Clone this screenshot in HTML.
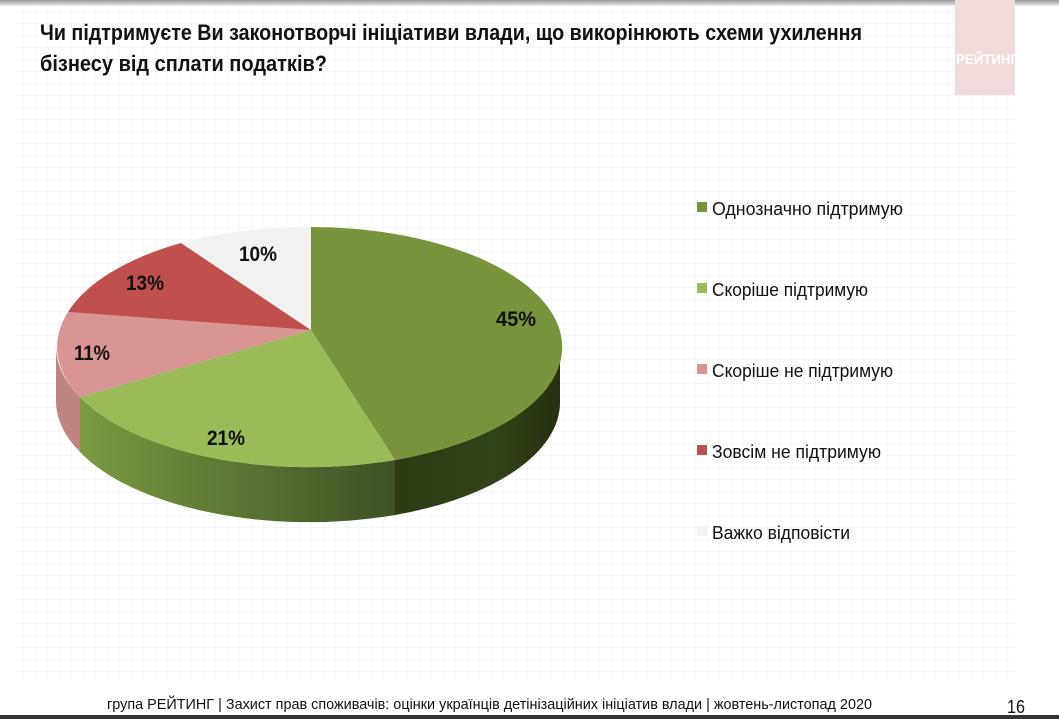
<!DOCTYPE html>
<html><head><meta charset="utf-8"><style>
html,body{margin:0;padding:0;background:#fff;}
svg{display:block;font-family:"Liberation Sans",sans-serif;}
</style></head><body>
<svg width="1059" height="719" viewBox="0 0 1059 719" xmlns="http://www.w3.org/2000/svg">
<defs>
<pattern id="grid" width="12" height="12" patternUnits="userSpaceOnUse">
<path d="M12 0V12M0 12H12" stroke="#ececec" stroke-width="1" fill="none"/>
</pattern>
<linearGradient id="lgS" x1="0" y1="0" x2="1" y2="0">
<stop offset="0" stop-color="#7a9a42"/><stop offset="1" stop-color="#3e5123"/></linearGradient>
<linearGradient id="dgS" x1="0" y1="0" x2="1" y2="0">
<stop offset="0" stop-color="#2c3a14"/><stop offset="0.6" stop-color="#334318"/><stop offset="1" stop-color="#25310f"/></linearGradient>
<linearGradient id="topbar" x1="0" y1="0" x2="0" y2="1">
<stop offset="0" stop-color="#999"/><stop offset="1" stop-color="#eee"/></linearGradient>
</defs>
<rect width="1059" height="719" fill="#fff"/>
<rect x="15" y="6" width="1000" height="676" fill="url(#grid)"/>
<rect x="0" y="0" width="1059" height="6" fill="url(#topbar)"/>
<rect x="955" y="0" width="60" height="95" fill="#f2dcdb"/>
<text x="987" y="64" font-size="14" font-weight="bold" fill="#fff" text-anchor="middle" textLength="62" lengthAdjust="spacingAndGlyphs">РЕЙТИНГ</text>
<text x="40" y="40" font-size="22" font-weight="bold" fill="#111" textLength="822" lengthAdjust="spacingAndGlyphs">Чи підтримуєте Ви законотворчі ініціативи влади, що викорінюють схеми ухилення</text>
<text x="40" y="71" font-size="22" font-weight="bold" fill="#111" textLength="287" lengthAdjust="spacingAndGlyphs">бізнесу від сплати податків?</text>

<!-- sides -->
<path d="M560 347 L560 402 A252 120 0 0 1 395 515 L395 460 A252 120 0 0 0 560 347Z" fill="url(#dgS)"/>
<path d="M395 460 L395 515 A252 120 0 0 1 80 452 L80 397 A252 120 0 0 0 395 460Z" fill="url(#lgS)"/>
<path d="M80 397 L80 452 A252 120 0 0 1 56 402 L56 347 A252 120 0 0 0 80 397Z" fill="#c08482"/>
<!-- tops -->
<path d="M311 330 L308 227 A252 120 0 0 1 395 460 Z" fill="#77933c"/>
<path d="M311 330 L395 460 A252 120 0 0 1 80 397 Z" fill="#9bbb59"/>
<path d="M311 330 L80 397 A252 120 0 0 1 68 312 Z" fill="#d99594"/>
<path d="M311 330 L68 312 A252 120 0 0 1 181 243 Z" fill="#c0504d"/>
<path d="M311 330 L181 243 A252 120 0 0 1 311 227 Z" fill="#f2f2f2"/>

<g font-size="21" font-weight="bold" fill="#111">
<text x="496" y="326" textLength="40" lengthAdjust="spacingAndGlyphs">45%</text>
<text x="207" y="445" textLength="38" lengthAdjust="spacingAndGlyphs">21%</text>
<text x="74" y="360" textLength="36" lengthAdjust="spacingAndGlyphs">11%</text>
<text x="126" y="290" textLength="38" lengthAdjust="spacingAndGlyphs">13%</text>
<text x="239" y="261" textLength="38" lengthAdjust="spacingAndGlyphs">10%</text>
</g>

<g font-size="18" fill="#111">
<rect x="697" y="202" width="10" height="10" fill="#77933c"/>
<text x="712" y="215" textLength="191" lengthAdjust="spacingAndGlyphs">Однозначно підтримую</text>
<rect x="697" y="283" width="10" height="10" fill="#9bbb59"/>
<text x="712" y="296" textLength="156" lengthAdjust="spacingAndGlyphs">Скоріше підтримую</text>
<rect x="697" y="364" width="10" height="10" fill="#d99594"/>
<text x="712" y="377" textLength="181" lengthAdjust="spacingAndGlyphs">Скоріше не підтримую</text>
<rect x="697" y="445" width="10" height="10" fill="#c0504d"/>
<text x="712" y="458" textLength="169" lengthAdjust="spacingAndGlyphs">Зовсім не підтримую</text>
<rect x="697" y="526" width="10" height="10" fill="#f2f2f2"/>
<text x="712" y="539" textLength="138" lengthAdjust="spacingAndGlyphs">Важко відповісти</text>
</g>

<text x="107" y="709" font-size="15" fill="#111" textLength="765" lengthAdjust="spacingAndGlyphs">група РЕЙТИНГ  | Захист прав споживачів: оцінки українців детінізаційних ініціатив влади  | жовтень-листопад 2020</text>
<text x="1007" y="713" font-size="18" fill="#111" textLength="18" lengthAdjust="spacingAndGlyphs">16</text>
<rect x="0" y="715" width="1059" height="4" fill="#333"/>
</svg>
</body></html>
